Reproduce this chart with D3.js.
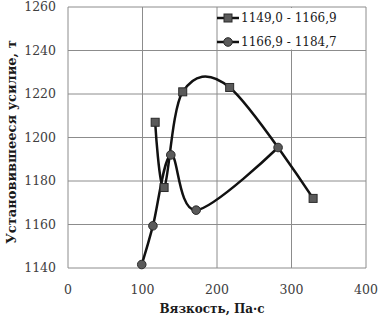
<!DOCTYPE html>
<html>
<head>
<meta charset="utf-8">
<script src="https://cdn.jsdelivr.net/npm/d3@7"></script>
<style>
  body { margin: 0; background: #fff; }
</style>
</head>
<body>
<div id="chart"></div>
<script>
// series 1: 1149,0 - 1166,9 (squares)
const seriesA = [
  {x: 117, y: 1207}, {x: 129, y: 1177}, {x: 154, y: 1221},
  {x: 217, y: 1223}, {x: 329, y: 1172}
];
// series 2: 1166,9 - 1184,7 (circles)
const seriesB = [
  {x: 99, y: 1141.6}, {x: 114, y: 1159.4}, {x: 138, y: 1192},
  {x: 172, y: 1166.6}, {x: 282, y: 1195.4}
];
const seriesNames = ['1149,0 - 1166,9', '1166,9 - 1184,7'];
const xTicks = [0, 100, 200, 300, 400];
const yTicks = [1140, 1160, 1180, 1200, 1220, 1240, 1260];

const width = 381, height = 318;
const margin = {top: 7, right: 15, bottom: 50, left: 68};

// Liberation Serif isn't picked up here, DejaVu Serif is
const svg = d3.select('#chart').append('svg')
  .attr('width', width).attr('height', height)
  .style('font-family', '"DejaVu Serif", serif');

const x = d3.scaleLinear().domain([0, 400]).range([margin.left, width - margin.right]);
const y = d3.scaleLinear().domain([1140, 1260]).range([height - margin.bottom, margin.top]);

// grid
svg.append('g').selectAll('line.gx').data(xTicks).join('line')
  .attr('x1', d => x(d)).attr('x2', d => x(d))
  .attr('y1', y(1140)).attr('y2', y(1260))
  .attr('stroke', '#8c8c8c').attr('stroke-width', 1);
svg.append('g').selectAll('line.gy').data(yTicks).join('line')
  .attr('x1', x(0)).attr('x2', x(400))
  .attr('y1', d => y(d)).attr('y2', d => y(d))
  .attr('stroke', '#8c8c8c').attr('stroke-width', 1);

// tick labels
svg.append('g').selectAll('text').data(yTicks).join('text')
  .attr('x', x(0) - 12).attr('y', d => y(d)).attr('dy', '0.35em')
  .attr('text-anchor', 'end').attr('font-size', 12.5).attr('fill', '#404040')
  .text(d => d);
svg.append('g').selectAll('text').data(xTicks).join('text')
  .attr('x', d => x(d)).attr('y', y(1140) + 22).attr('dy', '0.35em')
  .attr('text-anchor', 'middle').attr('font-size', 12.5).attr('fill', '#404040')
  .text(d => d);

// axis titles
svg.append('text')
  .attr('x', (x(0) + x(400)) / 2 - 5).attr('y', 309).attr('dy', '0.35em')
  .attr('text-anchor', 'middle').attr('font-size', 12).attr('font-weight', 'bold')
  .attr('fill', '#1a1a1a')
  .text('Вязкость, Па·с');
svg.append('text')
  .attr('transform', 'translate(11,' + 142 + ') rotate(-90)')
  .attr('dy', '0.35em')
  .attr('text-anchor', 'middle').attr('font-size', 13).attr('font-weight', 'bold')
  .attr('fill', '#1a1a1a')
  .text('Установившееся усилие, т');

// curves
const line = d3.line().x(d => x(d.x)).y(d => y(d.y)).curve(d3.curveCardinal.tension(0));
[seriesA, seriesB].forEach(s => {
  svg.append('path').datum(s)
    .attr('d', line).attr('fill', 'none')
    .attr('stroke', '#111').attr('stroke-width', 2.5);
});

// markers
svg.append('g').selectAll('rect').data(seriesA).join('rect')
  .attr('x', d => x(d.x) - 4).attr('y', d => y(d.y) - 4)
  .attr('width', 8).attr('height', 8)
  .attr('fill', '#5a5a5a').attr('stroke', '#2a2a2a').attr('stroke-width', 1);
svg.append('g').selectAll('circle').data(seriesB).join('circle')
  .attr('cx', d => x(d.x)).attr('cy', d => y(d.y)).attr('r', 4.3)
  .attr('fill', '#5a5a5a').attr('stroke', '#2a2a2a').attr('stroke-width', 1);

// legend
const lg = svg.append('g');
lg.append('rect').attr('x', x(200) + 1).attr('y', y(1260) + 1)
  .attr('width', x(400) - x(200) - 2).attr('height', y(1240) - y(1260) - 2)
  .attr('fill', '#fff');
seriesNames.forEach((name, i) => {
  const ly = 18 + i * 24;
  const lx = x(200);
  lg.append('line').attr('x1', lx).attr('x2', lx + 22).attr('y1', ly).attr('y2', ly)
    .attr('stroke', '#111').attr('stroke-width', 2.5);
  if (i === 0) {
    lg.append('rect').attr('x', lx + 7).attr('y', ly - 4).attr('width', 8).attr('height', 8)
      .attr('fill', '#5a5a5a').attr('stroke', '#2a2a2a');
  } else {
    lg.append('circle').attr('cx', lx + 11).attr('cy', ly).attr('r', 4.3)
      .attr('fill', '#5a5a5a').attr('stroke', '#2a2a2a');
  }
  lg.append('text').attr('x', lx + 24).attr('y', ly).attr('dy', '0.35em')
    .attr('font-size', 12).attr('fill', '#1a1a1a').text(name);
});
</script>
</body>
</html>
